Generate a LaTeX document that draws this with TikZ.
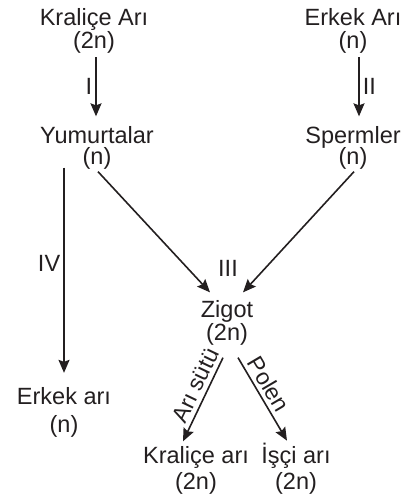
\documentclass[tikz,border=0pt]{standalone}
\usepackage{fontspec}
\setmainfont{Liberation Sans}
\usetikzlibrary{arrows.meta}
\definecolor{ink}{HTML}{231F20}
\tikzset{
  lbl/.style={align=center, text=ink, inner sep=1bp,
    font=\fontsize{23.5bp}{23bp}\selectfont},
  num/.style={text=ink, inner sep=3bp, font=\fontsize{23.5bp}{23bp}\selectfont},
  flow/.style={draw=ink, line width=1.6bp,
    -{Stealth[length=13bp,width=11bp,inset=2bp]}},
  tilt/.style={text=ink, sloped, above, pos=.4, inner sep=4bp,
    font=\fontsize{23bp}{23bp}\selectfont}
}

\begin{document}
\begin{tikzpicture}[x=1bp,y=1bp]
          \useasboundingbox (0,0) rectangle (413,504);
          % parents
          \node (kra) at (94,473.5) [lbl] {Kraliçe Arı\\(2n)};
          \node (erk) at (353,473.5) [lbl] {Erkek Arı\\(n)};
          % gametes
          \node (yum) at (97,356) [lbl] {Yumurtalar\\[-2bp](n)};
          \node (sper) at (353,356) [lbl] {Spermler\\[-2bp](n)};
          % offspring
          \node (zig) at (227,181) [lbl] {Zigot\\(2n)};
          \node (ear) at (64,92) [lbl] {Erkek arı\\[5bp](n)};
          \node (ka) at (196,33.5) [lbl] {Kraliçe arı\\[3bp](2n)};
          \node (isc) at (296,35.5) [lbl] {İşçi arı\\[3bp](2n)};
          \node (iii) at (228,236) [num] {III};
          \draw[flow] ([xshift=2bp,yshift=-3bp]kra.south)
            -- node[num, left] {I} ([xshift=-1bp,yshift=9bp]yum.north);
          \draw[flow] ([xshift=6bp,yshift=-3bp]erk.south)
            -- node[num, right] {II} ([xshift=6bp,yshift=9bp]sper.north);
          \draw[flow, shorten <=-3bp, shorten >=13bp] (yum.south -| ear.north)
            -- node[num, left, pos=.43] {IV} (ear.north);
          \draw[flow] ([xshift=1bp,yshift=-1bp]yum.south) -- ([xshift=-17bp,yshift=7bp]zig.north);
          \draw[flow] ([xshift=1bp,yshift=-1bp]sper.south) -- ([xshift=16bp,yshift=7bp]zig.north);
          \draw[flow] ([xshift=-4bp,yshift=-11bp]zig.south)
            -- node[tilt] {Arı sütü} ([xshift=-13bp,yshift=4bp]ka.north);
          \draw[flow] ([xshift=11bp,yshift=-11bp]zig.south)
            -- node[tilt] {Polen} ([xshift=-9bp,yshift=1bp]isc.north);
        \end{tikzpicture}
\end{document}
